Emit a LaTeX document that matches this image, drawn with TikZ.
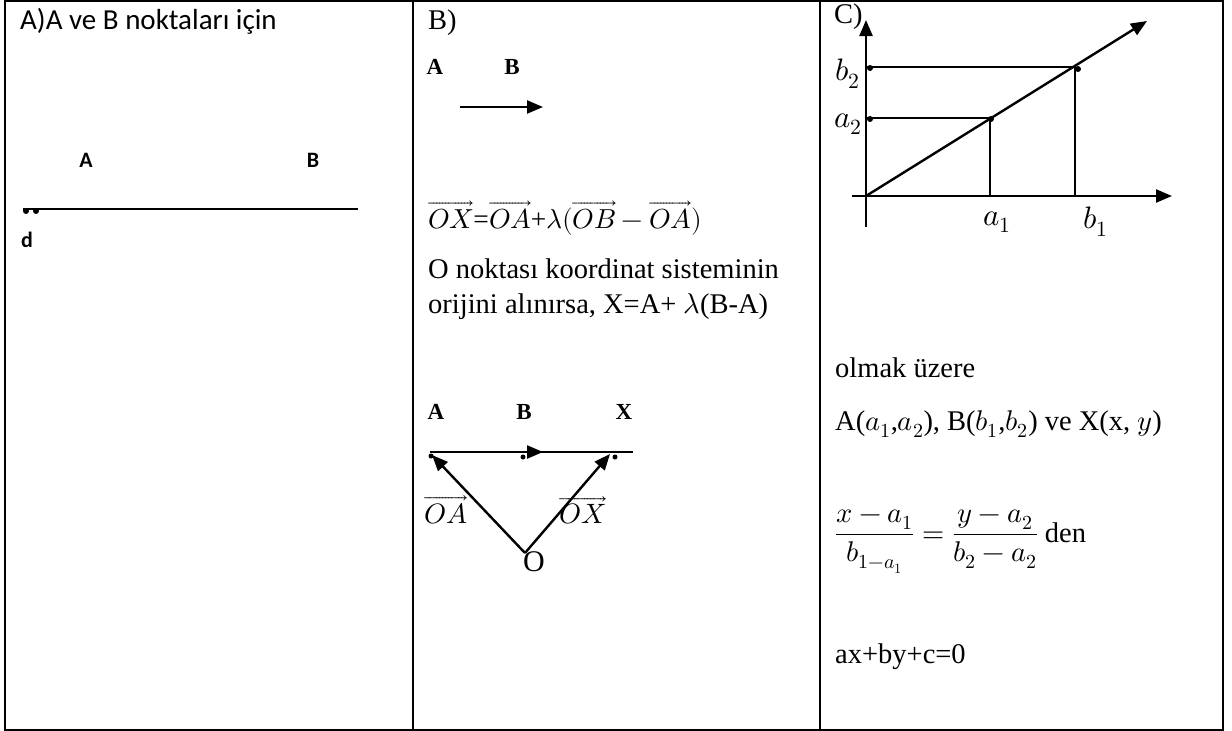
\documentclass[tikz,border=0pt]{standalone}
\usepackage{fontspec}
\usepackage{amsmath}
\usepackage{unicode-math}
\setmainfont{Liberation Serif}
\newfontfamily\calibri{Carlito}
\usetikzlibrary{arrows.meta,positioning,calc}
\tikzset{
  cellLine/.style={line width=2.2pt},
  plotLine/.style={line width=2.2pt},
  helpLine/.style={line width=1.4pt},
  vecArrow/.style={-{Triangle[length=16pt,width=13pt]}, line width=2.4pt},
  dotMark/.style={circle, fill, inner sep=0pt, minimum size=6pt},
  serifText/.style={font=\fontsize{28.5}{34}\selectfont, inner sep=0pt, anchor=base west},
  sansText/.style={font=\calibri\fontsize{29}{35}\selectfont, inner sep=0pt, anchor=base west},
  ptLabel/.style={font=\bfseries\fontsize{23}{26}\selectfont, inner sep=0pt},
  sansLabel/.style={font=\calibri\bfseries\fontsize{22}{26}\selectfont, inner sep=0pt},
  mathLabel/.style={font=\fontsize{31}{34}\selectfont, inner sep=0pt}
}

\begin{document}
\begin{tikzpicture}[x=1pt,y=-1pt]
  \useasboundingbox (0,0) rectangle (1232,731);
  % table
  \draw[cellLine] (5,1) rectangle (1223,730);
  \draw[cellLine] (413,1) -- (413,730);
  \draw[cellLine] (820,1) -- (820,730);

  % A) panel
  \node[sansText] (titleA) at (20,29) {A)A ve B noktaları için};
  \node[sansLabel] (lblA) at (86,160) {A};
  \node[sansLabel] (lblB) at (313,160) {B};
  \coordinate (dLeft) at (23,209);
  \coordinate (dRight) at (358,209);
  \draw[line width=2pt] (dLeft) -- (dRight);
  \node[dotMark] (dotOne) at (26,211) {};
  \node[dotMark] (dotTwo) at (36,211) {};
  \node[sansLabel] (lblD) at (27,240) {d};

  % B) panel
  \node[serifText] (titleB) at (428,29) {B)};
  \node[ptLabel] (topA) at (435,67) {A};
  \node[ptLabel] (topB) at (512,67) {B};
  \coordinate (abTail) at (460,107);
  \coordinate (abHead) at (543,107);
  \draw[vecArrow] (abTail) -- (abHead);
  \node[serifText, font=\fontsize{27.5}{34}\selectfont] (vecEq) at (428,228)
    {$\overrightarrow{OX}$=$\overrightarrow{OA}$+$\lambda(\overrightarrow{OB}-\overrightarrow{OA})$};
  \node[serifText] (noteOne) at (428,278) {O noktası koordinat sisteminin};
  \node[serifText] (noteTwo) at (428,313) {orijini alınırsa, X=A+ $\lambda$(B-A)};

  \node[ptLabel] (lowA) at (436,412) {A};
  \node[ptLabel] (lowB) at (524,412) {B};
  \node[ptLabel] (lowX) at (624,412) {X};
  \coordinate (lnA) at (430,452);
  \coordinate (lnB) at (543,452);
  \coordinate (lnEnd) at (633,452);
  \draw[plotLine] (lnA) -- (lnEnd);
  \draw[vecArrow] (lnA) -- (lnB);
  \node[dotMark, minimum size=5pt] (pA) at (431,456) {};
  \node[dotMark, minimum size=5pt] (pB) at (523,457) {};
  \node[dotMark, minimum size=5pt] (pX) at (615,457) {};
  \coordinate (vO) at (525,553);
  \node[serifText, anchor=center, font=\fontsize{30}{34}\selectfont] (lblO) at (534,562) {O};
  \coordinate (tipA) at (432,455);
  \coordinate (tipX) at (610,454);
  \draw[vecArrow] (vO) -- (tipA);
  \draw[vecArrow] (vO) -- (tipX);
  \node[mathLabel, font=\fontsize{28}{32}\selectfont] (lblOA) at (446,510) {$\overrightarrow{OA}$};
  \node[mathLabel, font=\fontsize{28}{32}\selectfont] (lblOX) at (583,510) {$\overrightarrow{OX}$};

  % C) panel
  \node[serifText] (titleC) at (834,23) {C)};
  \coordinate (org) at (866,196);
  \coordinate (yBot) at (866,227);
  \coordinate (yTop) at (866,20);
  \coordinate (xLeft) at (852,196);
  \coordinate (xRight) at (1172,196);
  \coordinate (lineTip) at (1147,21);
  \coordinate (ptA) at (990,118);
  \coordinate (ptB) at (1075,67);
  \draw[vecArrow] (yBot) -- (yTop);
  \draw[vecArrow] (xLeft) -- (xRight);
  \draw[vecArrow] (org) -- (lineTip);
  \draw[helpLine] (org |- ptB) -- (ptB) -- (ptB |- org);
  \draw[helpLine] (org |- ptA) -- (ptA) -- (ptA |- org);
  \node[dotMark] (dA2) at (870,119) {};
  \node[dotMark] (dB2) at (870,68) {};
  \node[dotMark] (dA) at (991,119) {};
  \node[dotMark] (dB) at (1078,69) {};
  \node[mathLabel] (lblB2) at (848,74) {$b_2$};
  \node[mathLabel] (lblA2) at (848,124) {$a_2$};
  \node[mathLabel] (lblA1) at (997,222) {$a_1$};
  \node[mathLabel] (lblB1) at (1096,222) {$b_1$};

  \node[serifText] (olmak) at (835,377) {olmak üzere};
  \node[serifText] (coords) at (835,430)
    {A($a_1$,$a_2$), B($b_1$,$b_2$) ve X(x, $y$)};
  \node[serifText] (ratio) at (835,542)
    {$\dfrac{x-a_1}{b_{1-a_1}}=\dfrac{y-a_2}{b_2-a_2}$ den};
  \node[serifText] (lineEq) at (835,663) {ax+by+c=0};
\end{tikzpicture}
\end{document}
